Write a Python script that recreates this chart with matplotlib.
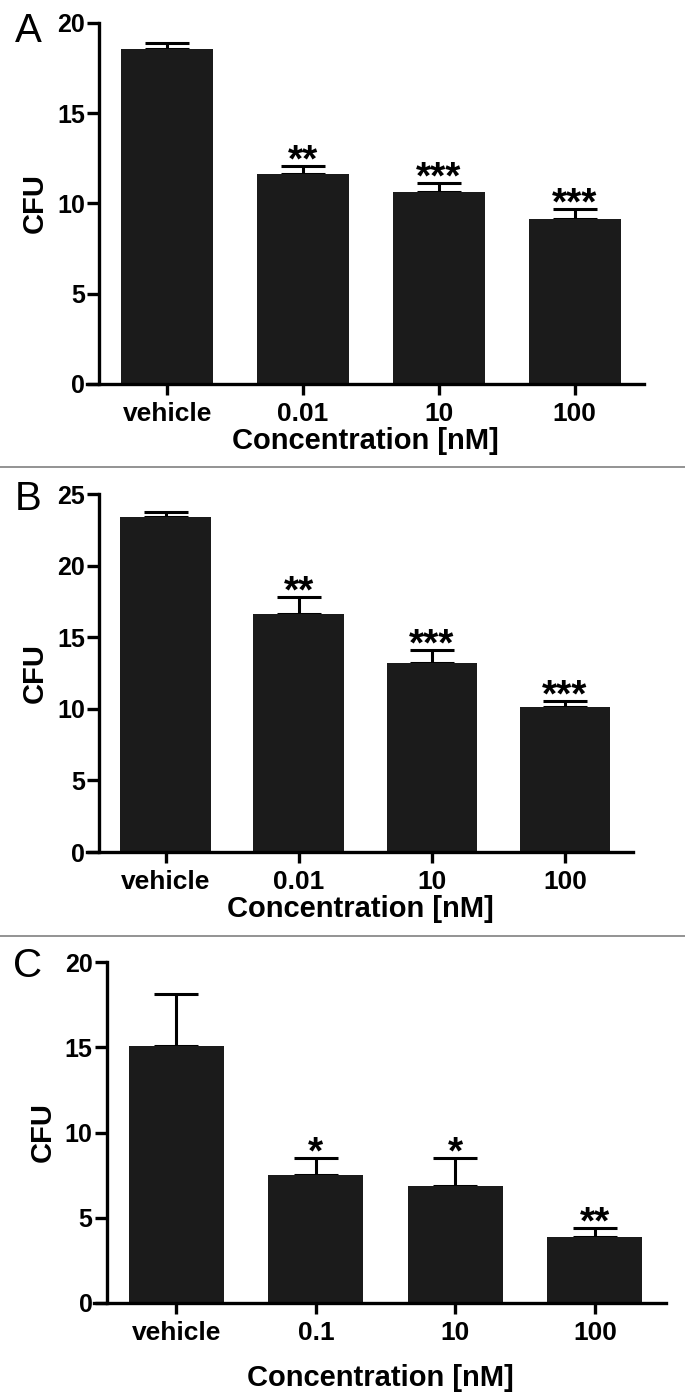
import matplotlib.pyplot as plt
from matplotlib.lines import Line2D

plt.rcParams['font.family'] = ['Liberation Sans', 'DejaVu Sans']
plt.rcParams['font.weight'] = 'bold'

# panel A
labels_a = ['vehicle', '0.01', '10', '100']
cfu_a = [18.55, 11.65, 10.65, 9.15]
err_a = [0.35, 0.45, 0.5, 0.55]
stars_a = ['', '**', '***', '***']

# panel B
labels_b = ['vehicle', '0.01', '10', '100']
cfu_b = [23.4, 16.6, 13.2, 10.15]
err_b = [0.35, 1.2, 0.9, 0.4]
stars_b = ['', '**', '***', '***']

# panel C
labels_c = ['vehicle', '0.1', '10', '100']
cfu_c = [15.05, 7.5, 6.85, 3.85]
err_c = [3.05, 1.0, 1.65, 0.57]
stars_c = ['', '*', '*', '**']

W, H = 685, 1399
fig = plt.figure(figsize=(W / 100, H / 100), dpi=100)


def px_axes(left, top, right, bottom):
    return fig.add_axes([left / W, 1 - bottom / H, (right - left) / W, (bottom - top) / H])


def panel(ax, labels, vals, errs, stars, ymax, letter, letter_y, xlabelpad):
    x = range(len(vals))
    ax.bar(x, vals, width=0.68, color='#1b1b1b', zorder=2)
    ax.errorbar(x, vals, yerr=[[0] * len(errs), errs], fmt='none', ecolor='black',
                elinewidth=2.2, capsize=16, capthick=2.2, zorder=1)
    for i, s in enumerate(stars):
        if s:
            ax.annotate(s, (i, vals[i] + errs[i]), xytext=(0, -4), textcoords='offset points',
                        ha='center', va='baseline', fontsize=28, fontweight='bold')
    ax.set_xlim(-0.59, 3.51)
    ax.set_ylim(0, ymax)
    ax.set_yticks(range(0, ymax + 1, 5))
    ax.set_xticks(list(x))
    ax.set_xticklabels(labels)
    for sp in ['top', 'right']:
        ax.spines[sp].set_visible(False)
    ax.spines['left'].set_position(('data', -0.5))
    ax.spines['left'].set_linewidth(2.4)
    ax.spines['bottom'].set_linewidth(2.4)
    ax.tick_params(axis='y', length=9, width=2.4, labelsize=18, pad=1)
    ax.tick_params(axis='x', length=8, width=2.4, labelsize=19, pad=5)
    ax.set_ylabel('CFU', fontsize=21, fontweight='bold', labelpad=6)
    ax.set_xlabel('Concentration [nM]', fontsize=21, fontweight='bold', labelpad=xlabelpad)
    ax.patch.set_visible(False)
    fig.text(28 / W, 1 - letter_y / H, letter, fontsize=29, fontweight='normal',
             ha='center', va='center')


ax_a = px_axes(87, 23, 644, 384)
panel(ax_a, labels_a, cfu_a, err_a, stars_a, 20, 'A', 31, 1)

ax_b = px_axes(87, 494, 633, 852)
panel(ax_b, labels_b, cfu_b, err_b, stars_b, 25, 'B', 499, 1)

ax_c = px_axes(94, 962, 666, 1303)
panel(ax_c, labels_c, cfu_c, err_c, stars_c, 20, 'C', 966, 14)

# separators between panels
for y in [467, 936]:
    fig.add_artist(Line2D([0, 1], [1 - y / H, 1 - y / H], color='#808080', lw=1.2))

fig.savefig('out.png', dpi=100)
